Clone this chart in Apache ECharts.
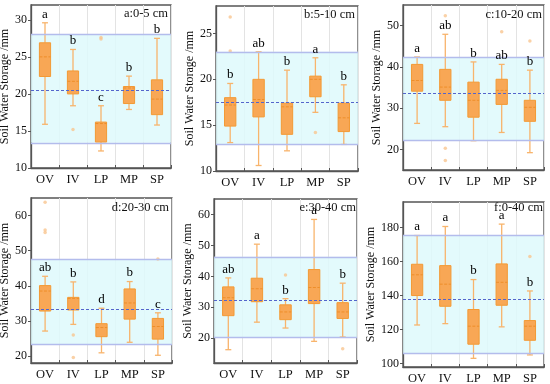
<!DOCTYPE html>
<html>
<head>
<meta charset="utf-8">
<script src="https://cdn.jsdelivr.net/npm/echarts@6/dist/echarts.min.js"></script>
<style>html,body{margin:0;padding:0;background:#fff}#c{width:550px;height:384px}</style>
</head>
<body>
<div id="c"></div>
<script>
// ---- data ----
const categories = ['OV', 'IV', 'LP', 'MP', 'SP'];
const panelTitles = ['a:0-5 cm', 'b:5-10 cm', 'c:10-20 cm', 'd:20-30 cm', 'e:30-40 cm', 'f:0-40 cm'];
// each box: [low whisker, Q1, median, Q3, high whisker]
const boxA = [[15.9, 22.35, 25.0, 26.9, 29.6], [18.4, 20.0, 21.7, 23.1, 26.0], [12.3, 13.5, 16.0, 16.2, 18.4], [17.9, 18.7, 20.8, 21.0, 22.4], [15.8, 17.2, 19.3, 21.9, 27.5]];
const boxB = [[13.1, 14.9, 17.2, 18.0, 19.55], [10.6, 15.9, 17.8, 20.0, 23.0], [12.2, 14.0, 17.0, 17.4, 21.0], [16.4, 18.1, 20.0, 20.35, 22.35], [12.9, 14.3, 15.8, 17.4, 19.4]];
const boxC = [[26.3, 34.1, 36.7, 40.6, 42.4], [25.5, 31.9, 35.1, 39.4, 47.9], [22.1, 27.8, 31.9, 36.3, 41.2], [24.1, 30.9, 34.3, 37.0, 40.6], [19.2, 26.8, 30.2, 31.9, 39.2]];
const boxD = [[27.1, 32.8, 38.5, 40.05, 42.7], [29.0, 33.1, 36.4, 36.7, 41.1], [20.9, 25.5, 28.1, 29.2, 33.6], [23.9, 30.5, 35.1, 39.1, 41.2], [20.2, 24.8, 28.4, 30.7, 32.3]];
const boxE = [[16.3, 27.3, 33.1, 36.6, 39.5], [25.2, 31.8, 36.0, 39.4, 50.4], [23.3, 26.0, 28.5, 30.8, 32.8], [19.0, 31.2, 36.4, 42.2, 58.4], [20.4, 26.4, 28.5, 31.5, 37.8]];
const boxF = [[122.7, 140.0, 152.2, 158.4, 175.3], [123.5, 133.7, 146.7, 157.6, 180.6], [103.1, 111.4, 122.0, 131.8, 149.4], [121.6, 134.3, 147.8, 158.6, 182.0], [105.1, 113.7, 122.0, 125.3, 142.7]];
// outliers: [category, value]
const outA = [['IV', 15.2], ['LP', 27.6], ['LP', 27.4]];
const outB = [['OV', 26.8], ['OV', 23.1], ['MP', 14.2]];
const outC = [['IV', 52.4], ['IV', 20.3], ['IV', 17.3], ['MP', 48.5], ['SP', 46.3]];
const outD = [['OV', 63.8], ['OV', 55.9], ['OV', 55.2], ['IV', 26.0], ['IV', 19.6], ['SP', 47.6]];
const outE = [['LP', 40.4], ['SP', 16.6]];
const outF = [['SP', 162.9]];
// significance letters
const letA = ['a', 'b', 'c', 'b', 'b'];
const letB = ['b', 'ab', 'b', 'a', 'b'];
const letC = ['a', 'ab', 'b', 'ab', 'b'];
const letD = ['ab', 'b', 'd', 'b', 'c'];
const letE = ['ab', 'a', 'b', 'a', 'b'];
const letF = ['a', 'a', 'b', 'a', 'b'];
// reference band [low, high] and overall mean
const bandA = [13.4, 28.0], meanA = 20.55;
const bandB = [12.9, 23.0], meanB = 17.5;
const bandC = [22.1, 42.4], meanC = 33.5;
const bandD = [23.4, 47.6], meanD = 33.4;
const bandE = [20.4, 46.3], meanE = 32.3;
const bandF = [106.0, 175.3], meanF = 137.8;
// axis ranges
const yRanges = [[10, 32], [10, 28], [15, 55], [18, 65], [12, 65], [98, 195]];

// ---- layout & style ----
const grids = [
  {left: 31, top: 5, width: 140, height: 163},
  {left: 216, top: 6, width: 142, height: 165},
  {left: 403, top: 5, width: 141, height: 165},
  {left: 31, top: 198, width: 141, height: 165},
  {left: 214, top: 199, width: 143, height: 164},
  {left: 403, top: 202, width: 141, height: 165}
];
const titlePos = [[168, 14], [355, 15], [542, 15], [169, 208], [356, 208], [543, 208]];
const nameGaps = [15, 15, 14, 14, 14, 18];
const FONT = '"Liberation Serif", "Times New Roman", serif';
const boxFill = '#F8A755', boxStroke = '#F39A35', whiskerColor = '#F8B46C', outColor = '#F9C690';

const panels = [
  [boxA, outA, letA, bandA, meanA], [boxB, outB, letB, bandB, meanB], [boxC, outC, letC, bandC, meanC],
  [boxD, outD, letD, bandD, meanD], [boxE, outE, letE, bandE, meanE], [boxF, outF, letF, bandF, meanF]
];

function renderBox(params, api) {
  const i = api.value(0);
  const pLow = api.coord([i, api.value(1)]);
  const pQ1 = api.coord([i, api.value(2)]);
  const pMed = api.coord([i, api.value(3)]);
  const pQ3 = api.coord([i, api.value(4)]);
  const pHigh = api.coord([i, api.value(5)]);
  const bw = api.size([1, 0])[0];
  const boxW = bw * 0.4, capW = bw * 0.21;
  const x = pLow[0];
  const ws = {stroke: whiskerColor, lineWidth: 1.3};
  return {type: 'group', children: [
    {type: 'line', shape: {x1: x, y1: pHigh[1], x2: x, y2: pQ3[1]}, style: ws},
    {type: 'line', shape: {x1: x, y1: pQ1[1], x2: x, y2: pLow[1]}, style: ws},
    {type: 'line', shape: {x1: x - capW / 2, y1: pHigh[1], x2: x + capW / 2, y2: pHigh[1]}, style: ws},
    {type: 'line', shape: {x1: x - capW / 2, y1: pLow[1], x2: x + capW / 2, y2: pLow[1]}, style: ws},
    {type: 'rect', shape: {x: x - boxW / 2, y: pQ3[1], width: boxW, height: pQ1[1] - pQ3[1]},
      style: {fill: boxFill, stroke: boxStroke, lineWidth: 1}},
    {type: 'line', shape: {x1: x - boxW / 2, y1: pMed[1], x2: x + boxW / 2, y2: pMed[1]},
      style: {stroke: '#EE8E2A', lineWidth: 1, lineDash: [3, 1.5]}}
  ]};
}

const option = {
  animation: false,
  grid: grids.map(g => Object.assign({show: true, borderColor: '#555', borderWidth: 1.3, backgroundColor: 'transparent', outerBoundsMode: 'none'}, g)),
  xAxis: grids.map((g, k) => ({
    type: 'category', gridIndex: k, data: categories, boundaryGap: true,
    axisLine: {show: true, lineStyle: {color: '#555', width: 1.3}},
    axisTick: {show: true, inside: true, length: 3, lineStyle: {color: '#555'}},
    axisLabel: {fontFamily: FONT, fontSize: 12.5, color: '#111', margin: 5},
    splitLine: {show: true, lineStyle: {color: '#E3E3E3', width: 1}}
  })),
  yAxis: grids.map((g, k) => {
    const ax = {
      type: 'value', gridIndex: k, min: yRanges[k][0], max: yRanges[k][1],
      name: 'Soil Water Storage /mm', nameLocation: 'middle', nameGap: nameGaps[k],
      nameTextStyle: {fontFamily: FONT, fontSize: 12, color: '#111'},
      axisLine: {show: true, lineStyle: {color: '#555', width: 1.3}},
      axisTick: {show: true, inside: false, length: 3, lineStyle: {color: '#555'}},
      axisLabel: {fontFamily: FONT, fontSize: 12, color: '#111', margin: 4, showMaxLabel: false,
        showMinLabel: (k < 2)},
      splitLine: {show: false}
    };
    if (k === 1) ax.interval = 5;
    return ax;
  }),
  graphic: titlePos.map((p, k) => ({
    type: 'text', x: p[0], y: p[1], z: 100,
    style: {text: panelTitles[k], font: '12.5px ' + FONT, fill: '#111', textAlign: 'right', textVerticalAlign: 'middle'}
  })),
  series: []
};

panels.forEach((pn, k) => {
  const [boxes, outs, lets, band, mean] = pn;
  // band + mean line
  option.series.push({
    type: 'line', xAxisIndex: k, yAxisIndex: k, data: [], silent: true, z: 1,
    markArea: {silent: true, itemStyle: {color: 'rgba(222,249,252,0.85)'},
      data: [[{yAxis: band[0]}, {yAxis: band[1]}]]},
    markLine: {silent: true, symbol: 'none', label: {show: false},
      data: [
        {yAxis: band[0], lineStyle: {color: '#B3BCEC', width: 1.3, type: 'solid'}},
        {yAxis: band[1], lineStyle: {color: '#B3BCEC', width: 1.3, type: 'solid'}},
        {yAxis: mean, lineStyle: {color: '#5465CC', width: 1, type: [3, 2]}}
      ]}
  });
  // boxes
  option.series.push({
    type: 'custom', xAxisIndex: k, yAxisIndex: k, z: 3,
    renderItem: renderBox,
    encode: {x: 0, y: [1, 2, 3, 4, 5]},
    data: boxes.map((b, i) => [i].concat(b))
  });
  // outliers
  option.series.push({
    type: 'scatter', xAxisIndex: k, yAxisIndex: k, z: 4, symbolSize: 3.5,
    itemStyle: {color: outColor},
    data: outs.map(o => [categories.indexOf(o[0]), o[1]])
  });
  // letters
  option.series.push({
    type: 'scatter', xAxisIndex: k, yAxisIndex: k, z: 5, symbolSize: 2,
    itemStyle: {color: 'rgba(0,0,0,0)'},
    label: {show: true, position: 'top', distance: 1, fontFamily: FONT, fontSize: 13, color: '#000',
      textBorderWidth: 0, opacity: 1, formatter: p => lets[p.dataIndex]},
    data: boxes.map((b, i) => [i, b[4]])
  });
});

echarts.init(document.getElementById('c'), null, {renderer: 'canvas'}).setOption(option);
</script>
</body>
</html>
